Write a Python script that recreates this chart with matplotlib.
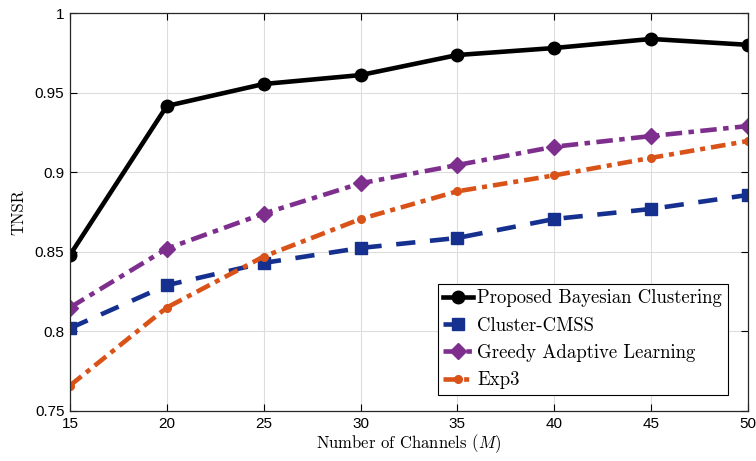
import matplotlib
matplotlib.use("Agg")
import matplotlib.pyplot as plt

plt.rcParams['mathtext.fontset'] = 'cm'
plt.rcParams['axes.unicode_minus'] = False

channels = [15, 20, 25, 30, 35, 40, 45, 50]
bayesian = [0.848, 0.9416, 0.9554, 0.961, 0.9736, 0.978, 0.9837, 0.980]
cmss = [0.802, 0.829, 0.843, 0.8524, 0.8587, 0.8706, 0.8769, 0.8857]
greedy = [0.815, 0.852, 0.874, 0.893, 0.9045, 0.916, 0.9227, 0.929]
exp3 = [0.766, 0.815, 0.847, 0.8706, 0.888, 0.898, 0.909, 0.9196]

yticks = [0.75, 0.8, 0.85, 0.9, 0.95, 1.0]
ytick_labels = ['0.75', '0.8', '0.85', '0.9', '0.95', '1']

fig = plt.figure(figsize=(7.56, 4.61), dpi=100)
ax = fig.add_axes([0.0926, 0.1085, 0.8968, 0.8633])

ax.plot(channels, bayesian, color='black', lw=3.3, marker='o', ms=9,
        label='Proposed Bayesian Clustering')
ax.plot(channels, cmss, color='#15308f', lw=3.3, ls=(0, (4.2, 3.2)), marker='s', ms=8,
        label='Cluster-CMSS')
ax.plot(channels, greedy, color='#7e2f8e', lw=3.3, ls=(0, (3.6, 1.4, 1.2, 1.4)), marker='D', ms=8.5,
        label='Greedy Adaptive Learning')
ax.plot(channels, exp3, color='#d95319', lw=3.3, ls=(0, (3.2, 1.3, 1.1, 1.3)), marker='o', ms=5.5,
        label='Exp3')

ax.set_xlim(15, 50)
ax.set_ylim(0.75, 1.0)
ax.set_xticks(channels)
ax.set_yticks(yticks)
ax.set_yticklabels(ytick_labels)
ax.grid(True, color='#dddddd', lw=0.8)
ax.set_axisbelow(True)
ax.tick_params(direction='in', top=True, right=True, length=5, width=0.8,
               labelsize=11, pad=4)
for lab in ax.get_xticklabels() + ax.get_yticklabels():
    lab.set_family('Liberation Sans')
for sp in ax.spines.values():
    sp.set_linewidth(0.9)
    sp.set_color('#262626')

ax.set_xlabel('Number of Channels ($M$)', family='cmr10', fontsize=12, labelpad=1)
ax.set_ylabel('TNSR', family='cmr10', fontsize=12, labelpad=6)

leg = ax.legend(loc='lower right', bbox_to_anchor=(0.97, 0.04),
                prop={'family': 'cmr10', 'size': 13.5}, fancybox=False,
                edgecolor='black', framealpha=1, handlelength=1.6,
                handletextpad=0.2, borderpad=0.3, borderaxespad=0.0,
                labelspacing=0.5)
leg.get_frame().set_linewidth(0.8)

fig.savefig('out.png', dpi=100)
